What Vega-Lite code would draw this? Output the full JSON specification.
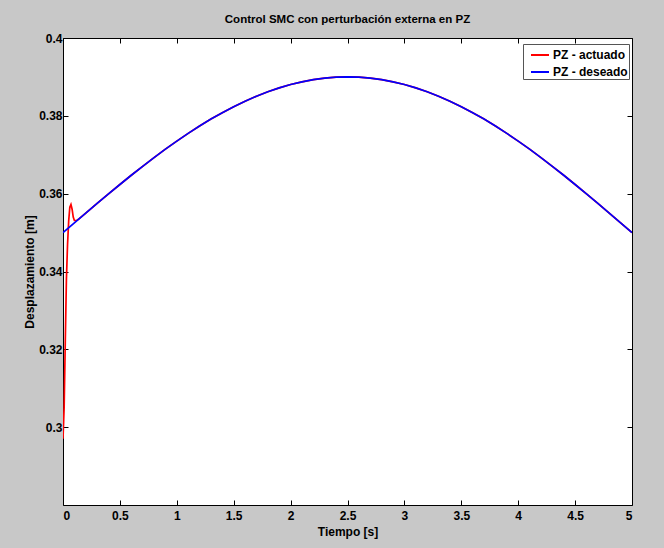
{
  "$schema": "https://vega.github.io/schema/vega-lite/v6.json",
  "autosize": "none",
  "width": 569,
  "height": 467,
  "padding": {"left": 63, "top": 38, "right": 32, "bottom": 43},
  "background": "#c8c8c8",
  "title": {"text": "Control SMC con perturbación externa en PZ", "font": "Liberation Sans", "fontSize": 11.5, "fontWeight": "bold", "color": "black", "offset": 7, "anchor": "middle"},
  "config": {
    "view": {"fill": "white", "stroke": "black", "strokeWidth": 1},
    "axis": {"grid": false, "labelFont": "Liberation Sans", "labelFontSize": 12, "labelFontWeight": "bold", "labelColor": "black", "titleFont": "Liberation Sans", "titleFontSize": 12, "titleFontWeight": "bold", "titleColor": "black", "domainColor": "black", "tickColor": "black", "tickSize": -5, "labelPadding": 8}
  },
  "data": {"values": [
    {"t": 0, "y": 0.297, "s": "PZ - actuado"},
    {"t": 0.01, "y": 0.305, "s": "PZ - actuado"},
    {"t": 0.02, "y": 0.322, "s": "PZ - actuado"},
    {"t": 0.03, "y": 0.338, "s": "PZ - actuado"},
    {"t": 0.04, "y": 0.347, "s": "PZ - actuado"},
    {"t": 0.05, "y": 0.353, "s": "PZ - actuado"},
    {"t": 0.06, "y": 0.3565, "s": "PZ - actuado"},
    {"t": 0.07, "y": 0.3572, "s": "PZ - actuado"},
    {"t": 0.08, "y": 0.356, "s": "PZ - actuado"},
    {"t": 0.09, "y": 0.354, "s": "PZ - actuado"},
    {"t": 0.1, "y": 0.3531, "s": "PZ - actuado"},
    {"t": 0.12, "y": 0.3531, "s": "PZ - actuado"},
    {"t": 0.14, "y": 0.35351, "s": "PZ - actuado"},
    {"t": 0.2, "y": 0.355013, "s": "PZ - actuado"},
    {"t": 0.3, "y": 0.357495, "s": "PZ - actuado"},
    {"t": 0.4, "y": 0.359948, "s": "PZ - actuado"},
    {"t": 0.5, "y": 0.362361, "s": "PZ - actuado"},
    {"t": 0.6, "y": 0.364725, "s": "PZ - actuado"},
    {"t": 0.7, "y": 0.367031, "s": "PZ - actuado"},
    {"t": 0.8, "y": 0.36927, "s": "PZ - actuado"},
    {"t": 0.9, "y": 0.371433, "s": "PZ - actuado"},
    {"t": 1.0, "y": 0.373512, "s": "PZ - actuado"},
    {"t": 1.1, "y": 0.375497, "s": "PZ - actuado"},
    {"t": 1.2, "y": 0.377382, "s": "PZ - actuado"},
    {"t": 1.3, "y": 0.379159, "s": "PZ - actuado"},
    {"t": 1.4, "y": 0.38082, "s": "PZ - actuado"},
    {"t": 1.5, "y": 0.382361, "s": "PZ - actuado"},
    {"t": 1.6, "y": 0.383773, "s": "PZ - actuado"},
    {"t": 1.7, "y": 0.385052, "s": "PZ - actuado"},
    {"t": 1.8, "y": 0.386193, "s": "PZ - actuado"},
    {"t": 1.9, "y": 0.387191, "s": "PZ - actuado"},
    {"t": 2.0, "y": 0.388042, "s": "PZ - actuado"},
    {"t": 2.1, "y": 0.388743, "s": "PZ - actuado"},
    {"t": 2.2, "y": 0.389292, "s": "PZ - actuado"},
    {"t": 2.3, "y": 0.389684, "s": "PZ - actuado"},
    {"t": 2.4, "y": 0.389921, "s": "PZ - actuado"},
    {"t": 2.5, "y": 0.39, "s": "PZ - actuado"},
    {"t": 2.6, "y": 0.389921, "s": "PZ - actuado"},
    {"t": 2.7, "y": 0.389684, "s": "PZ - actuado"},
    {"t": 2.8, "y": 0.389292, "s": "PZ - actuado"},
    {"t": 2.9, "y": 0.388743, "s": "PZ - actuado"},
    {"t": 3.0, "y": 0.388042, "s": "PZ - actuado"},
    {"t": 3.1, "y": 0.387191, "s": "PZ - actuado"},
    {"t": 3.2, "y": 0.386193, "s": "PZ - actuado"},
    {"t": 3.3, "y": 0.385052, "s": "PZ - actuado"},
    {"t": 3.4, "y": 0.383773, "s": "PZ - actuado"},
    {"t": 3.5, "y": 0.382361, "s": "PZ - actuado"},
    {"t": 3.6, "y": 0.38082, "s": "PZ - actuado"},
    {"t": 3.7, "y": 0.379159, "s": "PZ - actuado"},
    {"t": 3.8, "y": 0.377382, "s": "PZ - actuado"},
    {"t": 3.9, "y": 0.375497, "s": "PZ - actuado"},
    {"t": 4.0, "y": 0.373512, "s": "PZ - actuado"},
    {"t": 4.1, "y": 0.371433, "s": "PZ - actuado"},
    {"t": 4.2, "y": 0.36927, "s": "PZ - actuado"},
    {"t": 4.3, "y": 0.367031, "s": "PZ - actuado"},
    {"t": 4.4, "y": 0.364725, "s": "PZ - actuado"},
    {"t": 4.5, "y": 0.362361, "s": "PZ - actuado"},
    {"t": 4.6, "y": 0.359948, "s": "PZ - actuado"},
    {"t": 4.7, "y": 0.357495, "s": "PZ - actuado"},
    {"t": 4.8, "y": 0.355013, "s": "PZ - actuado"},
    {"t": 4.9, "y": 0.352512, "s": "PZ - actuado"},
    {"t": 5.0, "y": 0.35, "s": "PZ - actuado"},
    {"t": 0, "y": 0.35, "s": "PZ - deseado"},
    {"t": 0.1, "y": 0.352512, "s": "PZ - deseado"},
    {"t": 0.2, "y": 0.355013, "s": "PZ - deseado"},
    {"t": 0.3, "y": 0.357495, "s": "PZ - deseado"},
    {"t": 0.4, "y": 0.359948, "s": "PZ - deseado"},
    {"t": 0.5, "y": 0.362361, "s": "PZ - deseado"},
    {"t": 0.6, "y": 0.364725, "s": "PZ - deseado"},
    {"t": 0.7, "y": 0.367031, "s": "PZ - deseado"},
    {"t": 0.8, "y": 0.36927, "s": "PZ - deseado"},
    {"t": 0.9, "y": 0.371433, "s": "PZ - deseado"},
    {"t": 1.0, "y": 0.373512, "s": "PZ - deseado"},
    {"t": 1.1, "y": 0.375497, "s": "PZ - deseado"},
    {"t": 1.2, "y": 0.377382, "s": "PZ - deseado"},
    {"t": 1.3, "y": 0.379159, "s": "PZ - deseado"},
    {"t": 1.4, "y": 0.38082, "s": "PZ - deseado"},
    {"t": 1.5, "y": 0.382361, "s": "PZ - deseado"},
    {"t": 1.6, "y": 0.383773, "s": "PZ - deseado"},
    {"t": 1.7, "y": 0.385052, "s": "PZ - deseado"},
    {"t": 1.8, "y": 0.386193, "s": "PZ - deseado"},
    {"t": 1.9, "y": 0.387191, "s": "PZ - deseado"},
    {"t": 2.0, "y": 0.388042, "s": "PZ - deseado"},
    {"t": 2.1, "y": 0.388743, "s": "PZ - deseado"},
    {"t": 2.2, "y": 0.389292, "s": "PZ - deseado"},
    {"t": 2.3, "y": 0.389684, "s": "PZ - deseado"},
    {"t": 2.4, "y": 0.389921, "s": "PZ - deseado"},
    {"t": 2.5, "y": 0.39, "s": "PZ - deseado"},
    {"t": 2.6, "y": 0.389921, "s": "PZ - deseado"},
    {"t": 2.7, "y": 0.389684, "s": "PZ - deseado"},
    {"t": 2.8, "y": 0.389292, "s": "PZ - deseado"},
    {"t": 2.9, "y": 0.388743, "s": "PZ - deseado"},
    {"t": 3.0, "y": 0.388042, "s": "PZ - deseado"},
    {"t": 3.1, "y": 0.387191, "s": "PZ - deseado"},
    {"t": 3.2, "y": 0.386193, "s": "PZ - deseado"},
    {"t": 3.3, "y": 0.385052, "s": "PZ - deseado"},
    {"t": 3.4, "y": 0.383773, "s": "PZ - deseado"},
    {"t": 3.5, "y": 0.382361, "s": "PZ - deseado"},
    {"t": 3.6, "y": 0.38082, "s": "PZ - deseado"},
    {"t": 3.7, "y": 0.379159, "s": "PZ - deseado"},
    {"t": 3.8, "y": 0.377382, "s": "PZ - deseado"},
    {"t": 3.9, "y": 0.375497, "s": "PZ - deseado"},
    {"t": 4.0, "y": 0.373512, "s": "PZ - deseado"},
    {"t": 4.1, "y": 0.371433, "s": "PZ - deseado"},
    {"t": 4.2, "y": 0.36927, "s": "PZ - deseado"},
    {"t": 4.3, "y": 0.367031, "s": "PZ - deseado"},
    {"t": 4.4, "y": 0.364725, "s": "PZ - deseado"},
    {"t": 4.5, "y": 0.362361, "s": "PZ - deseado"},
    {"t": 4.6, "y": 0.359948, "s": "PZ - deseado"},
    {"t": 4.7, "y": 0.357495, "s": "PZ - deseado"},
    {"t": 4.8, "y": 0.355013, "s": "PZ - deseado"},
    {"t": 4.9, "y": 0.352512, "s": "PZ - deseado"},
    {"t": 5.0, "y": 0.35, "s": "PZ - deseado"}
  ]},
  "layer": [
    {
      "mark": {"type": "line", "strokeOpacity": 0},
      "encoding": {
        "x": {"field": "t", "type": "quantitative", "scale": {"domain": [0, 5], "nice": false, "zero": false}, "axis": {"orient": "top", "values": [0, 0.5, 1, 1.5, 2, 2.5, 3, 3.5, 4, 4.5, 5], "labels": false, "title": null, "domain": false}},
        "y": {"field": "y", "type": "quantitative", "scale": {"domain": [0.28, 0.4], "nice": false, "zero": false}, "axis": {"orient": "right", "values": [0.3, 0.32, 0.34, 0.36, 0.38, 0.4], "labels": false, "title": null, "domain": false}},
        "detail": {"field": "s"}
      }
    },
    {
      "mark": {"type": "line", "strokeWidth": 1.7, "clip": true},
      "encoding": {
        "x": {"field": "t", "type": "quantitative", "scale": {"domain": [0, 5], "nice": false, "zero": false}, "axis": {"orient": "bottom", "values": [0, 0.5, 1, 1.5, 2, 2.5, 3, 3.5, 4, 4.5, 5], "format": "~g", "title": "Tiempo [s]", "labelPadding": 10, "titlePadding": 5, "domain": false}},
        "y": {"field": "y", "type": "quantitative", "scale": {"domain": [0.28, 0.4], "nice": false, "zero": false}, "axis": {"orient": "left", "values": [0.3, 0.32, 0.34, 0.36, 0.38, 0.4], "format": "~g", "title": "Desplazamiento [m]", "labelPadding": 6, "titlePadding": 2, "domain": false}},
        "color": {"field": "s", "type": "nominal", "scale": {"domain": ["PZ - actuado", "PZ - deseado"], "range": ["#ff0000", "#0000ff"]},
          "legend": {"title": null, "orient": "none", "legendX": 460, "legendY": 6, "fillColor": "white", "strokeColor": "#555555", "padding": 1, "symbolType": "stroke", "symbolSize": 324, "symbolStrokeWidth": 2, "symbolOffset": 6, "labelOffset": 3, "labelFont": "Liberation Sans", "labelFontSize": 12, "labelFontWeight": "bold", "labelColor": "black", "rowPadding": 1}}
      }
    }
  ],
  "resolve": {"axis": {"x": "independent", "y": "independent"}}
}
